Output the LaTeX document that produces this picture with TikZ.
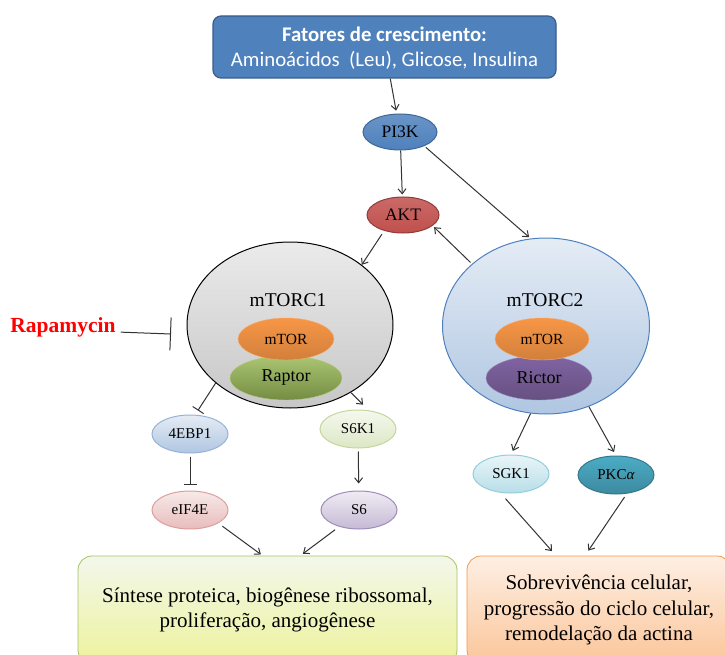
\documentclass[tikz,border=0pt]{standalone}
\usepackage{fontspec}
\setmainfont{Liberation Serif}
\newfontfamily\calibri{Carlito}
\usetikzlibrary{arrows.meta,shapes.geometric}

\definecolor{boxblue}{HTML}{4F81BD}
\definecolor{boxblueline}{HTML}{385D8A}
\definecolor{aktred}{HTML}{C0504D}
\definecolor{mtororange}{HTML}{F79646}
\definecolor{raptorgreen}{HTML}{9BBB59}
\definecolor{rictorpurple}{HTML}{8064A2}
\definecolor{pkcteal}{HTML}{4BACC6}

\begin{document}
\begin{tikzpicture}[x=1pt, y=-1pt,
>={Straight Barb[length=5pt,width=8pt]},
prot/.style={ellipse, draw, line width=1pt, inner sep=0, minimum width=76pt, minimum height=38pt, font=\fontsize{15}{17}\selectfont},
complex/.style={ellipse, draw, line width=1pt, inner sep=0},
sub/.style={ellipse, draw, inner sep=0, minimum width=96pt, minimum height=42pt},
link/.style={->, line width=1pt, black!80},
block/.style={-{Bar[width=13pt]}, line width=1pt, black!80},
effect/.style={draw, rounded corners=14pt, line width=.8pt, align=center, inner sep=0, font=\fontsize{21}{25.5}\selectfont},
]
\useasboundingbox (0,0) rectangle (725,655);

%%%%%%%%%%%%%%%%%%%%%%%% TOP %%%%%%%%%%%%%%%%%%%%%%%%%%%
\node[draw=boxblueline, fill=boxblue, line width=1.2pt, rounded corners=8pt,
      minimum width=343pt, minimum height=62pt, align=center, text=white, text depth=0pt,
      font=\calibri\fontsize{20.8}{25}\selectfont] (GrowthBox) at (384.5,47)
      {\textbf{Fatores de crescimento:}\\Aminoácidos\ \ (Leu), Glicose, Insulina};

\node[prot, draw=boxblue!80!black, top color=boxblue!85, bottom color=boxblue,
      minimum width=74pt, minimum height=36pt, font=\fontsize{17.5}{19}\selectfont] (PI3K) at (400,132) {PI3K};
\node[prot, draw=aktred!75!black, top color=aktred!85, bottom color=aktred,
      minimum width=72pt, minimum height=36pt, font=\fontsize{17.5}{19}\selectfont] (AKT) at (403,215) {AKT};

%%%%%%%%%%%%%%%%%%%%%%%% mTOR COMPLEXES %%%%%%%%%%%%%%%%%%%%%%%%%%%
\node[complex, draw=black, top color=black!8, bottom color=black!22,
      minimum width=206pt, minimum height=166pt] (mTORC1) at (290,325) {};
\node[font=\fontsize{19.5}{22}\selectfont] (mTORC1Label) at (288,300) {mTORC1};
\node[sub, draw=raptorgreen!80, top color=raptorgreen!85, bottom color=raptorgreen!75!black,
      minimum width=112pt, minimum height=44pt, font=\fontsize{18}{20}\selectfont] (Raptor) at (286,378) {Raptor};
\node[sub, draw=mtororange!80, top color=mtororange, bottom color=mtororange!85!black,
      font=\fontsize{15.5}{17}\selectfont] (mTOR1) at (286,339) {mTOR};

\node[complex, draw=boxblue, top color=boxblue!15, bottom color=boxblue!45,
      minimum width=207pt, minimum height=176pt] (mTORC2) at (546,326) {};
\node[font=\fontsize{19.5}{22}\selectfont] (mTORC2Label) at (545,300) {mTORC2};
\node[sub, draw=rictorpurple!80, top color=rictorpurple, bottom color=rictorpurple!80!black,
      minimum width=106pt, minimum height=44pt, font=\fontsize{18}{20}\selectfont] (Rictor) at (539,378) {Rictor};
\node[sub, draw=mtororange!80, top color=mtororange, bottom color=mtororange!85!black,
      minimum width=94pt, font=\fontsize{15.5}{17}\selectfont] (mTOR2) at (542,339) {mTOR};

%%%%%%%%%%%%%%%%%%%%%%%% RAPAMYCIN %%%%%%%%%%%%%%%%%%%%%%%%%%%
\node[text=red, font=\bfseries\fontsize{21.5}{24}\selectfont, inner sep=0] (Rapamycin) at (63,327) {Rapamycin};
\coordinate (RapaStop) at (171,334);
\draw[block, -{Bar[width=33pt]}] ([xshift=5pt]Rapamycin.base east) -- (RapaStop);

%%%%%%%%%%%%%%%%%%%%%%%% TARGETS %%%%%%%%%%%%%%%%%%%%%%%%%%%
\node[prot, draw=boxblue!60, top color=boxblue!15, bottom color=boxblue!45] (FourEBP1) at (190,434) {4EBP1};
\node[prot, draw=raptorgreen!60, top color=raptorgreen!10, bottom color=raptorgreen!35] (S6K1) at (358,429) {S6K1};
\node[prot, draw=aktred!55, top color=aktred!12, bottom color=aktred!38] (eIF4E) at (190,510) {eIF4E};
\node[prot, draw=rictorpurple!75, top color=rictorpurple!12, bottom color=rictorpurple!45] (S6) at (359,510) {S6};
\node[prot, draw=pkcteal!60, top color=pkcteal!12, bottom color=pkcteal!40] (SGK1) at (511,474) {SGK1};
\node[prot, draw=pkcteal!70!black, top color=pkcteal, bottom color=pkcteal!80!black] (PKCa) at (616,475) {PKC\textit{α}};

%%%%%%%%%%%%%%%%%%%%%%%% EFFECTS %%%%%%%%%%%%%%%%%%%%%%%%%%%
\node[effect, draw=raptorgreen!90, top color=raptorgreen!12, bottom color=raptorgreen!40!yellow!45,
      minimum width=379pt, minimum height=108pt] (GreenBox) at (267.5,610)
      {Síntese proteica, biogênese ribossomal,\\proliferação, angiogênese};
\node[effect, draw=mtororange, top color=mtororange!15, bottom color=mtororange!55,
      minimum width=264pt, minimum height=108pt] (OrangeBox) at (599,610)
      {Sobrevivência celular,\\progressão do ciclo celular,\\remodelação da actina};

%%%%%%%%%%%%%%%%%%%%%%%% ARROWS %%%%%%%%%%%%%%%%%%%%%%%%%%%
\draw[link, shorten >=3pt] (GrowthBox) -- (PI3K);
\draw[link, shorten >=2pt] (PI3K) -- (AKT);
\draw[link, shorten <=4pt] (AKT.220) -- (mTORC1.40);
\draw[link, shorten <=2pt, shorten >=2pt] (PI3K.-30) -- (mTORC2.100);
\draw[link, shorten <=2pt, shorten >=2pt] (mTORC2.140) -- (AKT.-20);

\draw[block, shorten >=5pt] (mTORC1.218) -- (FourEBP1.75);
\draw[link, shorten >=8pt] (mTORC1.-48) -- (S6K1.60);
\draw[block, shorten <=3pt, shorten >=6pt] (FourEBP1) -- (eIF4E);
\draw[link, shorten <=3pt, shorten >=7pt] (S6K1) -- (S6);

\draw[link, shorten >=4pt] (mTORC2.-100) -- (SGK1.north);
\draw[link, shorten >=4pt] (mTORC2.-62) -- (PKCa.north);

\draw[link, shorten <=5pt, shorten >=2pt] (eIF4E.-25) -- ([xshift=-5pt]GreenBox.north);
\draw[link, shorten <=5pt, shorten >=3pt] (S6.-140) -- ([xshift=33pt]GreenBox.north);
\draw[link, shorten <=8pt, shorten >=6pt] (SGK1.-120) -- ([xshift=-43pt]OrangeBox.north);
\draw[link, shorten <=4pt, shorten >=6pt] (PKCa.-60) -- ([xshift=-14pt]OrangeBox.north);
\end{tikzpicture}
\end{document}
